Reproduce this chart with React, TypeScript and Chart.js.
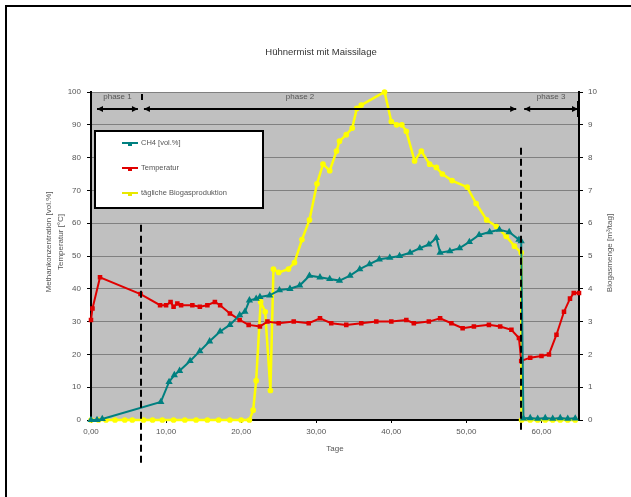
import React, { useEffect, useRef } from "react";
import { Chart, registerables } from "chart.js";

Chart.register(...registerables);

// ---------- texts ----------
const chartTitle = "Hühnermist mit Maissilage";
const xAxisTitle = "Tage";
const leftAxisTitles = ["Methankonzentration [vol.%]", "Temperatur [°C]"];
const rightAxisTitle = "Biogasmenge [m³/tag]";
const seriesNames = ["CH4 [vol.%]", "Temperatur", "tägliche Biogasproduktion"];
const phaseNames = ["phase 1", "phase 2", "phase 3"];

// ---------- ticks ----------
const xTicks = [0, 10, 20, 30, 40, 50, 60];
const xTickLabels = ["0,00", "10,00", "20,00", "30,00", "40,00", "50,00", "60,00"];
const leftTicks = [0, 10, 20, 30, 40, 50, 60, 70, 80, 90, 100];
const rightTicks = [0, 1, 2, 3, 4, 5, 6, 7, 8, 9, 10];

// ---------- phases ----------
const phaseBounds = [0, 6.65, 57.3, 65];
const dashedLineDays = [6.65, 57.3];
const dashedLineTops = [59.5, 83];
const dashedLineBottoms = [-14, -3.6];

// ---------- series ----------
const ch4Days = [0, 0.8, 1.5, 9.3, 10.4, 11.1, 11.8, 13.2, 14.5, 15.8, 17.2, 18.5, 19.8, 20.5, 21.1, 22.0, 22.5, 23.8, 25.1, 26.5, 27.8, 29.1, 30.5, 31.8, 33.1, 34.5, 35.8, 37.1, 38.4, 39.8, 41.1, 42.5, 43.8, 45.0, 46.0, 46.5, 47.8, 49.1, 50.4, 51.7, 53.1, 54.4, 55.7, 57.0, 57.3, 57.6, 58.5, 59.5, 60.5, 61.5, 62.5, 63.5, 64.5];
const ch4Values = [0, 0, 0.3, 5.5, 11.6, 13.7, 15, 18, 21, 24, 27, 29, 32, 33, 36.5, 37, 37.5, 38, 39.6, 40, 41, 44, 43.5, 43, 42.5, 44, 46, 47.5, 49, 49.5, 50, 51, 52.4, 53.5, 55.5, 51, 51.5, 52.4, 54.3, 56.4, 57.3, 58, 57.3, 55, 54.5, 0.5, 0.6, 0.4, 0.6, 0.4, 0.6, 0.4, 0.5];

const tempDays = [0, 0.2, 1.2, 6.6, 9.2, 10, 10.6, 11.0, 11.5, 12, 13.5, 14.5, 15.5, 16.5, 17.2, 18.5, 19.8, 21, 22.5, 23.5, 25, 27, 29, 30.5, 32, 34, 36, 38, 40, 42, 43, 45, 46.5, 48, 49.5, 51, 53, 54.5, 56, 57, 57.3, 58.5, 60, 61, 62, 63, 63.8, 64.3, 65];
const tempValues = [30.5, 34, 43.5, 38.4, 35, 35, 36, 34.5, 35.5, 35, 35, 34.5, 35, 36, 35, 32.5, 30.5, 29, 28.5, 30, 29.5, 30, 29.5, 31, 29.5, 29, 29.5, 30, 30, 30.5, 29.5, 30, 31, 29.5, 28, 28.5, 29, 28.5, 27.5, 25, 18, 19, 19.5, 20, 26, 33, 37, 38.7, 38.7];

const biogasDays = [0, 1, 2, 3.2, 4.5, 5.5, 7, 8.2, 9.5, 11, 12.5, 14, 15.5, 17, 18.5, 20, 21.1, 21.6, 22.0, 22.6, 23.2, 23.9, 24.3, 25.0, 26.3, 27.1, 28.1, 29.1, 30.1, 30.9, 31.8, 32.7, 33.1, 34.0, 34.8, 35.4, 36.0, 39.1, 40.0, 40.7, 41.4, 42.0, 43.1, 44.0, 45.1, 46.0, 46.8, 48.1, 50.1, 51.3, 52.7, 54.0, 55.3, 56.4, 57.3, 57.35, 58.5, 59.5, 60.5, 61.5, 62.5, 63.5, 64.5];
const biogasValues = [0, 0, 0, 0, 0, 0, 0, 0, 0, 0, 0, 0, 0, 0, 0, 0, 0, 0.3, 1.2, 3.6, 3.3, 0.9, 4.6, 4.5, 4.6, 4.8, 5.5, 6.1, 7.2, 7.8, 7.6, 8.2, 8.5, 8.7, 8.9, 9.5, 9.6, 10.0, 9.1, 9.0, 9.0, 8.8, 7.9, 8.2, 7.8, 7.7, 7.5, 7.3, 7.1, 6.6, 6.1, 5.9, 5.6, 5.3, 5.1, 0, 0, 0, 0, 0, 0, 0, 0];

// ---------- styles ----------
const FONT = '"Liberation Sans", Arial, sans-serif';
const TEXT = "#555";
const TEAL = "#008080";
const RED = "#E00000";
const YELLOW = "#FFFF00";
const PLOT_BG = "#C0C0C0";
const GRID = "#808080";
const phaseArrowValue = 94.8;
const phaseLabelValue = 98.6;

const toPoints = (xs: number[], ys: number[]) => xs.map((x, i) => ({ x, y: ys[i] }));

const decorPlugin = {
  id: "decor",
  beforeDraw(chart: any) {
    const { ctx, chartArea: a, width, height } = chart;
    ctx.save();
    ctx.fillStyle = "#fff";
    ctx.fillRect(0, 0, width, height);
    ctx.fillStyle = PLOT_BG;
    ctx.fillRect(a.left, a.top, a.right - a.left, a.bottom - a.top);
    ctx.strokeStyle = "#000";
    ctx.lineWidth = 2;
    ctx.beginPath();
    ctx.moveTo(6, height);
    ctx.lineTo(6, 6);
    ctx.lineTo(width, 6);
    ctx.stroke();
    ctx.restore();
  },
  afterDraw(chart: any) {
    const { ctx, chartArea: a, scales } = chart;
    const xs = scales.x;
    const ys = scales.y;
    ctx.save();
    ctx.fillStyle = "#333";
    ctx.font = `9.5px ${FONT}`;
    ctx.textAlign = "center";
    ctx.textBaseline = "middle";
    ctx.fillText(chartTitle, (a.left + a.right) / 2 - 14, 52);
    ctx.fillStyle = TEXT;
    ctx.font = `8px ${FONT}`;
    ctx.fillText(xAxisTitle, (a.left + a.right) / 2, 449);
    const drawRot = (t: string, x: number, y: number) => {
      ctx.save();
      ctx.translate(x, y);
      ctx.rotate(-Math.PI / 2);
      ctx.fillText(t, 0, 0);
      ctx.restore();
    };
    drawRot(leftAxisTitles[0], 49, 242);
    drawRot(leftAxisTitles[1], 61, 242);
    drawRot(rightAxisTitle, 610, (a.top + a.bottom) / 2 - 3);

    ctx.strokeStyle = "#000";
    ctx.lineWidth = 2;
    ctx.setLineDash([7, 4]);
    dashedLineDays.forEach((d, i) => {
      const px = Math.round(xs.getPixelForValue(d));
      ctx.beginPath();
      ctx.moveTo(px, ys.getPixelForValue(dashedLineTops[i]));
      ctx.lineTo(px, ys.getPixelForValue(dashedLineBottoms[i]));
      ctx.stroke();
    });
    ctx.setLineDash([]);

    const ay = Math.round(ys.getPixelForValue(phaseArrowValue));
    const ly = ys.getPixelForValue(phaseLabelValue);
    const arrow = (x: number, dir: number) => {
      ctx.beginPath();
      ctx.moveTo(x, ay);
      ctx.lineTo(x - dir * 6, ay - 3);
      ctx.lineTo(x - dir * 6, ay + 3);
      ctx.closePath();
      ctx.fill();
    };
    ctx.fillStyle = "#000";
    ctx.lineWidth = 2;
    for (let i = 0; i < phaseNames.length; i++) {
      const x0 = xs.getPixelForValue(phaseBounds[i]) + (i === 0 ? 6 : 3);
      const x1 = xs.getPixelForValue(phaseBounds[i + 1]) - (i === phaseNames.length - 1 ? 1 : i === 1 ? 5 : 3);
      ctx.beginPath();
      ctx.moveTo(x0, ay);
      ctx.lineTo(x1, ay);
      ctx.stroke();
      arrow(x0, -1);
      arrow(x1, 1);
      ctx.fillStyle = TEXT;
      ctx.font = `8px ${FONT}`;
      ctx.textAlign = "center";
      const cx = (x0 + x1) / 2 + (i === 1 ? -30 : 0);
      ctx.fillText(phaseNames[i], cx, ly);
      ctx.fillStyle = "#000";
    }
    const bx = Math.round(xs.getPixelForValue(phaseBounds[1]));
    ctx.fillRect(bx, ay - 15, 2, 6);
    ctx.fillRect(a.right - 2, ay - 8, 2, 16);

    const lx = 95, lt = 131, lw = 168, lh = 77;
    ctx.fillStyle = "#fff";
    ctx.fillRect(lx, lt, lw, lh);
    ctx.strokeStyle = "#000";
    ctx.lineWidth = 2;
    ctx.strokeRect(lx, lt, lw, lh);
    const colors = [TEAL, RED, "#E8E800"];
    const rows = [143, 168, 193];
    ctx.font = `7.5px ${FONT}`;
    ctx.textAlign = "left";
    rows.forEach((ry, i) => {
      ctx.strokeStyle = colors[i];
      ctx.lineWidth = 2;
      ctx.beginPath();
      ctx.moveTo(122, ry);
      ctx.lineTo(138, ry);
      ctx.stroke();
      ctx.fillStyle = colors[i];
      ctx.fillRect(128, ry - 1, 4, 4);
      ctx.fillStyle = TEXT;
      ctx.fillText(seriesNames[i], 141, ry);
    });
    ctx.restore();
  },
};

export default function App() {
  const ref = useRef<HTMLCanvasElement>(null);
  useEffect(() => {
    if (!ref.current) return;
    const tickFont = { family: FONT, size: 8 };
    const chart = new Chart(ref.current, {
      type: "line",
      data: {
        datasets: [
          {
            label: seriesNames[0],
            data: toPoints(ch4Days, ch4Values),
            borderColor: TEAL,
            backgroundColor: TEAL,
            borderWidth: 2,
            pointStyle: "triangle",
            pointRadius: 2.2,
            yAxisID: "y",
            clip: false,
          },
          {
            label: seriesNames[1],
            data: toPoints(tempDays, tempValues),
            borderColor: RED,
            backgroundColor: RED,
            borderWidth: 2,
            pointStyle: "rect",
            pointRadius: 1.8,
            yAxisID: "y",
            clip: false,
          },
          {
            label: seriesNames[2],
            data: toPoints(biogasDays, biogasValues),
            borderColor: YELLOW,
            backgroundColor: YELLOW,
            borderWidth: 2.5,
            pointStyle: "circle",
            pointRadius: 1.6,
            yAxisID: "y1",
            clip: false,
          },
        ],
      },
      options: {
        responsive: false,
        animation: false,
        events: [],
        layout: { padding: { top: 92, left: 0, right: 0, bottom: 0 } },
        plugins: { legend: { display: false }, title: { display: false }, tooltip: { enabled: false } },
        scales: {
          x: {
            type: "linear",
            min: 0,
            max: 65,
            afterBuildTicks: (s: any) => { s.ticks = xTicks.map((v) => ({ value: v })); },
            afterFit: (s: any) => { s.height = 77; },
            ticks: {
              autoSkip: false,
              maxRotation: 0,
              color: TEXT,
              font: tickFont,
              padding: 4,
              callback: (v: any) => { const i = xTicks.indexOf(Number(v)); return i >= 0 ? xTickLabels[i] : ""; },
            },
            grid: { drawOnChartArea: false, drawTicks: true, tickLength: 3, tickColor: "#000" },
            border: { display: true, color: "#000", width: 2 },
          },
          y: {
            type: "linear",
            position: "left",
            min: 0,
            max: 100,
            afterBuildTicks: (s: any) => { s.ticks = leftTicks.map((v) => ({ value: v })); },
            afterFit: (s: any) => { s.width = 91; },
            ticks: { color: TEXT, font: tickFont, padding: 6 },
            grid: { color: GRID, lineWidth: 1, drawTicks: true, tickLength: 4, tickColor: "#000" },
            border: { display: true, color: "#000", width: 2 },
          },
          y1: {
            type: "linear",
            position: "right",
            min: 0,
            max: 10,
            afterBuildTicks: (s: any) => { s.ticks = rightTicks.map((v) => ({ value: v })); },
            afterFit: (s: any) => { s.width = 52; },
            ticks: { color: TEXT, font: tickFont, padding: 5 },
            grid: { drawOnChartArea: false, drawTicks: true, tickLength: 4, tickColor: "#000" },
            border: { display: true, color: "#000", width: 2 },
          },
        },
      },
      plugins: [decorPlugin],
    } as any);
    return () => chart.destroy();
  }, []);
  return (
    <div style={{ position: "absolute", left: 0, top: 0, width: 631, height: 497, background: "#fff" }}>
      <canvas ref={ref} width={631} height={497} style={{ display: "block", width: 631, height: 497 }} />
    </div>
  );
}
